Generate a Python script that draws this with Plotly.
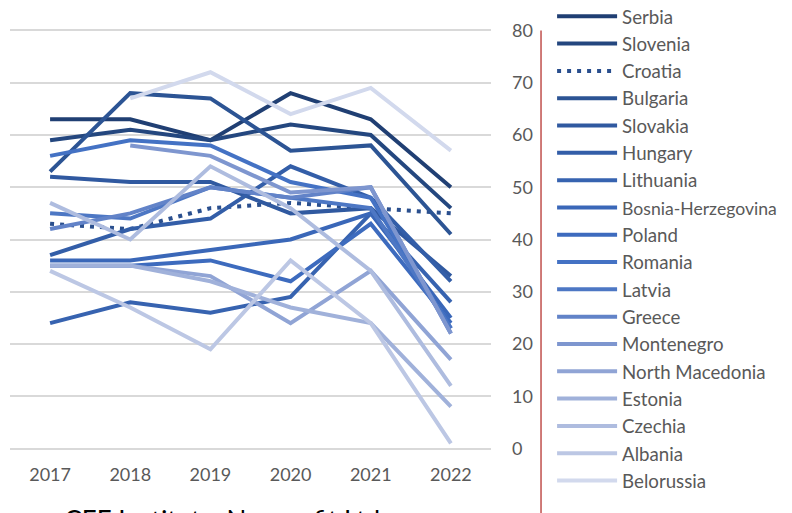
import plotly.graph_objects as go

years = ["2017", "2018", "2019", "2020", "2021", "2022"]

countries = ["Serbia", "Slovenia", "Croatia", "Bulgaria", "Slovakia", "Hungary",
             "Lithuania", "Bosnia-Herzegovina", "Poland", "Romania", "Latvia",
             "Greece", "Montenegro", "North Macedonia", "Estonia", "Czechia",
             "Albania", "Belorussia"]

serbia = [63, 63, 59, 68, 63, 50]
slovenia = [59, 61, 59, 62, 60, 46]
croatia = [43, 42, 46, 47, 46, 45]
bulgaria = [53, 68, 67, 57, 58, 41]
slovakia = [52, 51, 51, 45, 46, 33]
hungary = [37, 42, 44, 54, 48, 32]
lithuania = [24, 28, 26, 29, 45, 28]
bosnia = [36, 36, 38, 40, 45, 25]
poland = [35, 35, 36, 32, 43, 24]
romania = [56, 59, 58, 51, 48, 23]
latvia = [45, 44, 50, 48, 46, 23]
greece = [42, 45, 50, 48, 50, 22]
montenegro = [None, 58, 56, 49, 50, 22]
north_macedonia = [35, 35, 33, 24, 34, 17]
estonia = [35, 35, 32, 27, 24, 8]
czechia = [47, 40, 54, 46, 34, 12]
albania = [34, 27, 19, 36, 24, 1]
belorussia = [None, 67, 72, 64, 69, 57]

series = [serbia, slovenia, croatia, bulgaria, slovakia, hungary, lithuania, bosnia,
          poland, romania, latvia, greece, montenegro, north_macedonia, estonia,
          czechia, albania, belorussia]

colors = ["#203F73", "#24477F", "#2A4F8E", "#2C5494", "#3059A0", "#335EA8",
          "#3763B0", "#3A67B8", "#3D6BBE", "#4472C4", "#4D77C4", "#6283C8",
          "#7E96CF", "#90A4D5", "#A0B1DA", "#AEBCDF", "#BCC7E4", "#D2D9ED"]

y_ticks = [0, 10, 20, 30, 40, 50, 60, 70, 80]

fig = go.Figure()
for name, vals, col in zip(countries, series, colors):
    dash = "4px,6px" if name == "Croatia" else "solid"
    label = name
    if len(name) > 16:
        label = "<span style='font-size:17.6px'>" + name + "</span>"
    fig.add_trace(go.Scatter(
        x=years, y=vals, name=label, mode="lines",
        line=dict(color=col, width=4, dash=dash),
        connectgaps=False,
    ))

fig.add_shape(type="line", xref="paper", yref="paper", x0=1.104, x1=1.104,
              y0=-0.14, y1=0.976, line=dict(color="#C0504D", width=1.5))

fig.add_annotation(text="Source: CEE Institute, Nonprofit Ltd.", xref="paper", yref="paper",
                   x=-0.082, y=-0.099, xanchor="left", yanchor="top", showarrow=False,
                   font=dict(family="Lato", size=26, color="#000000"))

fig.update_layout(
    width=784, height=505,
    margin=dict(l=2, r=301, t=11.5, b=53.5, autoexpand=False),
    paper_bgcolor="white", plot_bgcolor="white",
    font=dict(family="Lato", color="#595959"),
    showlegend=True,
    legend=dict(x=1.127, y=1.051, xanchor="left", yanchor="top",
                font=dict(family="Lato", size=18.7, color="#595959"),
                itemwidth=60, bgcolor="rgba(0,0,0,0)", tracegroupgap=0,
                maxheight=600),
    xaxis=dict(type="category", range=[-0.5, 5.5], showgrid=False, zeroline=False,
               showline=False, ticks="", ticklabelstandoff=3,
               tickfont=dict(size=18, color="#595959")),
    yaxis=dict(side="right", range=[-2, 82], tickvals=y_ticks, showgrid=True,
               gridcolor="#D9D9D9", gridwidth=1.5, zeroline=False, showline=False,
               ticklabelstandoff=20, tickfont=dict(size=18, color="#595959")),
)

fig.write_html("out.html")
